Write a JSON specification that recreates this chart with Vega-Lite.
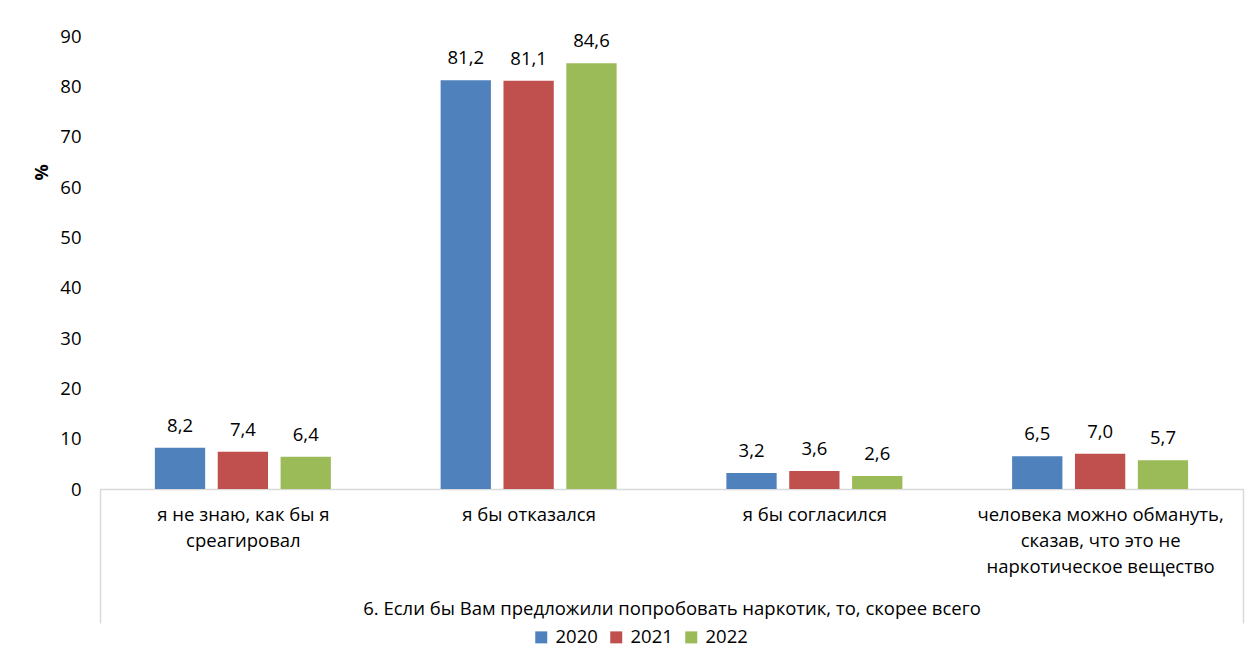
{
  "$schema": "https://vega.github.io/schema/vega-lite/v6.json",
  "autosize": {"type": "none"},
  "padding": {"left": 100, "top": 36, "right": 16, "bottom": 181},
  "width": 1143,
  "height": 453,
  "config": {
    "view": {"stroke": null},
    "font": "Open Sans",
    "locale": {"number": {"decimal": ",", "thousands": " ", "grouping": [3], "currency": ["", ""]}}
  },
  "data": {
    "values": [
      {"cat": "я не знаю, как бы я|среагировал", "year": "2020", "value": 8.2},
      {"cat": "я не знаю, как бы я|среагировал", "year": "2021", "value": 7.4},
      {"cat": "я не знаю, как бы я|среагировал", "year": "2022", "value": 6.4},
      {"cat": "я бы отказался", "year": "2020", "value": 81.2},
      {"cat": "я бы отказался", "year": "2021", "value": 81.1},
      {"cat": "я бы отказался", "year": "2022", "value": 84.6},
      {"cat": "я бы согласился", "year": "2020", "value": 3.2},
      {"cat": "я бы согласился", "year": "2021", "value": 3.6},
      {"cat": "я бы согласился", "year": "2022", "value": 2.6},
      {"cat": "человека можно обмануть,|сказав, что это не|наркотическое вещество", "year": "2020", "value": 6.5},
      {"cat": "человека можно обмануть,|сказав, что это не|наркотическое вещество", "year": "2021", "value": 7.0},
      {"cat": "человека можно обмануть,|сказав, что это не|наркотическое вещество", "year": "2022", "value": 5.7}
    ]
  },
  "encoding": {
    "x": {
      "field": "cat",
      "type": "nominal",
      "sort": null,
      "scale": {"paddingInner": 0, "paddingOuter": 0},
      "axis": {
        "title": "6. Если бы Вам предложили попробовать наркотик, то, скорее всего",
        "titleFontSize": 18.5,
        "titleFontWeight": "normal",
        "titleColor": "#000000",
        "titleBaseline": "middle",
        "titleY": 119,
        "labelExpr": "datum.value ? split(datum.value, '|') : ''",
        "labelAngle": 0,
        "labelFontSize": 18.5,
        "labelColor": "#000000",
        "labelLineHeight": 26,
        "labelBaseline": "top",
        "labelPadding": -118,
        "labelLimit": 400,
        "domainColor": "#d9d9d9",
        "domainWidth": 1.5,
        "tickColor": "#d9d9d9",
        "tickWidth": 1.5,
        "tickOpacity": {"condition": {"test": "!datum.value || datum.value === 'человека можно обмануть,|сказав, что это не|наркотическое вещество'", "value": 1}, "value": 0},
        "tickSize": 134,
        "tickBand": "extent"
      }
    },
    "xOffset": {"field": "year", "type": "nominal", "scale": {"paddingInner": 0.2, "paddingOuter": 0.873}},
    "y": {
      "field": "value",
      "type": "quantitative",
      "scale": {"domain": [0, 90]},
      "axis": {
        "values": [0, 10, 20, 30, 40, 50, 60, 70, 80, 90],
        "grid": false,
        "domain": false,
        "ticks": false,
        "labelFontSize": 18.5,
        "labelColor": "#000000",
        "labelPadding": 19,
        "title": "%",
        "titleFontSize": 18,
        "titleFontWeight": "bold",
        "titleColor": "#000000",
        "titleAngle": 270,
        "titleX": -58,
        "titleY": 136,
        "titleAlign": "center",
        "titleBaseline": "middle"
      }
    }
  },
  "layer": [
    {
      "mark": {"type": "bar"},
      "encoding": {
        "color": {
          "field": "year",
          "type": "nominal",
          "scale": {"domain": ["2020", "2021", "2022"], "range": ["#4F81BD", "#C0504D", "#9BBB59"]},
          "legend": {
            "title": null,
            "orient": "none",
            "direction": "horizontal",
            "legendX": 432,
            "legendY": 592,
            "symbolType": "square",
            "symbolSize": 144,
            "symbolStrokeWidth": 0,
            "labelFontSize": 18.5,
            "labelColor": "#000000",
            "labelOffset": 5,
            "columnPadding": 9
          }
        }
      }
    },
    {
      "mark": {"type": "text", "baseline": "bottom", "dy": -12, "fontSize": 18.5, "color": "#000000"},
      "encoding": {"text": {"field": "value", "type": "quantitative", "format": ".1f"}}
    }
  ]
}
